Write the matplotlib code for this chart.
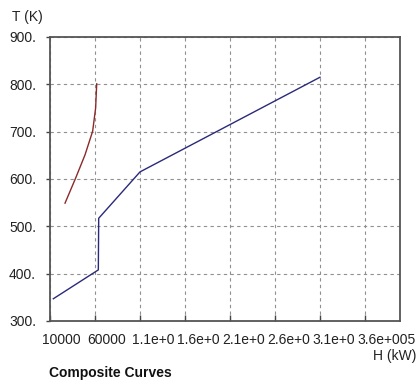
import matplotlib
matplotlib.use("Agg")
import matplotlib.pyplot as plt
from matplotlib.transforms import offset_copy, blended_transform_factory

plt.rcParams['font.family'] = ['Liberation Sans', 'DejaVu Sans']

# Hot composite curve
hot_H = [26700, 38500, 48900, 57400, 60700, 61900]
hot_T = [549, 602, 651, 701, 750, 801]
# Cold composite curve
cold_H = [13700, 63700, 64100, 110000, 310000]
cold_T = [347, 408, 517, 615, 815]

xticks = [10000, 60000, 110000, 160000, 210000, 260000, 310000, 360000]
# labels as visible in the reference (long ones are clipped by their neighbour)
xticklabels = ["10000", "60000", "1.1e+0", "1.6e+0", "2.1e+0",
               "2.6e+0", "3.1e+0", "3.6e+005"]
yticks = [300, 400, 500, 600, 700, 800, 900]
yticklabels = ["300.", "400.", "500.", "600.", "700.", "800.", "900."]

fig = plt.figure(figsize=(4.18, 3.89), dpi=100)
ax = fig.add_axes([50/418, 1-321/389, 350/418, 284/389])

ax.plot(hot_H, hot_T, color='#8b2a2a', lw=1.0)
ax.plot(cold_H, cold_T, color='#2a2a7a', lw=1.0)

ax.set_xlim(10000, 398900)
ax.set_ylim(300, 900)
ax.set_xticks(xticks)
ax.set_xticklabels([""] * len(xticks))
ax.set_yticks(yticks)
ax.set_yticklabels(yticklabels, fontsize=10, color='#222222')

ax.grid(True, color='#909090', linestyle=(0, (3, 3)), lw=0.8)
ax.set_axisbelow(True)
for s in ax.spines.values():
    s.set_color('#555555')
    s.set_linewidth(1.3)

ax.tick_params(axis='x', direction='in', length=4, width=1, color='#444444')
ax.tick_params(axis='y', direction='out', length=3, width=1, color='#444444', pad=7)

trans = blended_transform_factory(ax.transData, ax.transAxes)
for xv, lab in zip(xticks, xticklabels):
    t = offset_copy(trans, fig=fig, x=-8, y=-12, units='dots')
    ax.text(xv, 0, lab, transform=t, ha='left', va='top', fontsize=10,
            color='#222222', clip_on=False)

fig.text(12/418, 1-17.5/389, "T (K)", ha='left', va='center', fontsize=10, color='#222222')
fig.text(416/418, 1-356/389, "H (kW)", ha='right', va='center', fontsize=10, color='#222222')
fig.text(49/418, 1-372.5/389, "Composite Curves", ha='left', va='center',
         fontsize=10, fontweight='bold', color='#111111')

fig.savefig("out.png", dpi=100)
